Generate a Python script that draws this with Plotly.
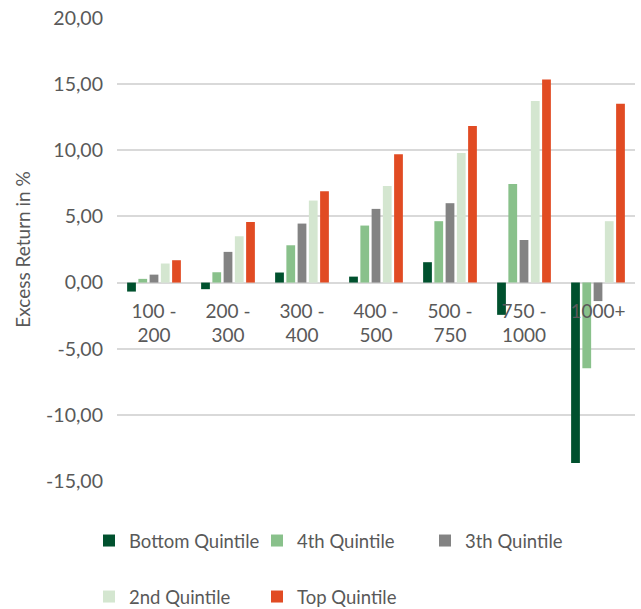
import plotly.graph_objects as go

# Market-cap buckets and the excess return (%) of each quintile portfolio
categories = ["100 -<br>200", "200 -<br>300", "300 -<br>400", "400 -<br>500",
              "500 -<br>750", "750 -<br>1000", "1000+"]

bottom_quintile = [-0.68, -0.50, 0.76, 0.45, 1.54, -2.44, -13.64]
fourth_quintile = [0.28, 0.78, 2.82, 4.31, 4.64, 7.45, -6.47]
third_quintile = [0.60, 2.32, 4.46, 5.57, 6.00, 3.22, -1.40]
second_quintile = [1.44, 3.50, 6.20, 7.30, 9.80, 13.72, 4.64]
top_quintile = [1.69, 4.58, 6.90, 9.70, 11.84, 15.36, 13.52]

y_ticks = [-15, -10, -5, 0, 5, 10, 15, 20]
y_tick_text = [f"{v:.2f}".replace(".", ",") for v in y_ticks]

series = [
    ("Bottom Quintile", bottom_quintile, "#00512e", "legend"),
    ("4th Quintile", fourth_quintile, "#89c18b", "legend"),
    ("3th Quintile", third_quintile, "#838383", "legend"),
    ("2nd Quintile", second_quintile, "#d4e6d0", "legend2"),
    ("Top Quintile", top_quintile, "#e14b23", "legend2"),
]

FONT = "Lato, Arial, sans-serif"
TEXT_COLOR = "#595959"
W, H = 641, 609

fig = go.Figure()
for name, values, color, leg in series:
    fig.add_trace(go.Bar(
        x=categories, y=values, name=name,
        marker=dict(color=color, line=dict(width=0)),
        legend=leg,
    ))

y_min, y_max = -15, 20
zero_pos = (0 - y_min) / (y_max - y_min)

legend_style = dict(
    orientation="h", xref="container", yref="container",
    x=89 / W, xanchor="left", yanchor="middle",
    entrywidth=123, entrywidthmode="pixels",
    font=dict(family=FONT, size=18.5, color=TEXT_COLOR),
    bgcolor="rgba(0,0,0,0)",
)

fig.update_layout(
    width=W, height=H,
    margin=dict(l=117, r=6, t=18, b=128, autoexpand=False),
    paper_bgcolor="white", plot_bgcolor="white",
    font=dict(family=FONT, size=19, color=TEXT_COLOR),
    barmode="group", bargap=0.24, bargroupgap=0.22,
    showlegend=True,
    xaxis=dict(
        anchor="free", position=zero_pos,
        showgrid=False, showline=False, ticks="",
        ticklabelstandoff=15,
        tickfont=dict(family=FONT, size=19, color=TEXT_COLOR),
    ),
    yaxis=dict(
        range=[y_min, y_max],
        tickvals=y_ticks, ticktext=y_tick_text,
        showgrid=True, gridcolor="#d9d9d9", gridwidth=1.5,
        zeroline=True, zerolinecolor="#d9d9d9", zerolinewidth=1.5,
        showline=False, ticks="",
        ticklabelstandoff=13,
        tickfont=dict(family=FONT, size=19.5, color=TEXT_COLOR),
        title=dict(text="Excess Return in %", standoff=10,
                   font=dict(family=FONT, size=19, color=TEXT_COLOR)),
    ),
    legend=dict(legend_style, y=1 - 541 / H),
    legend2=dict(legend_style, y=1 - 597 / H),
)

fig.write_html("out.html")
